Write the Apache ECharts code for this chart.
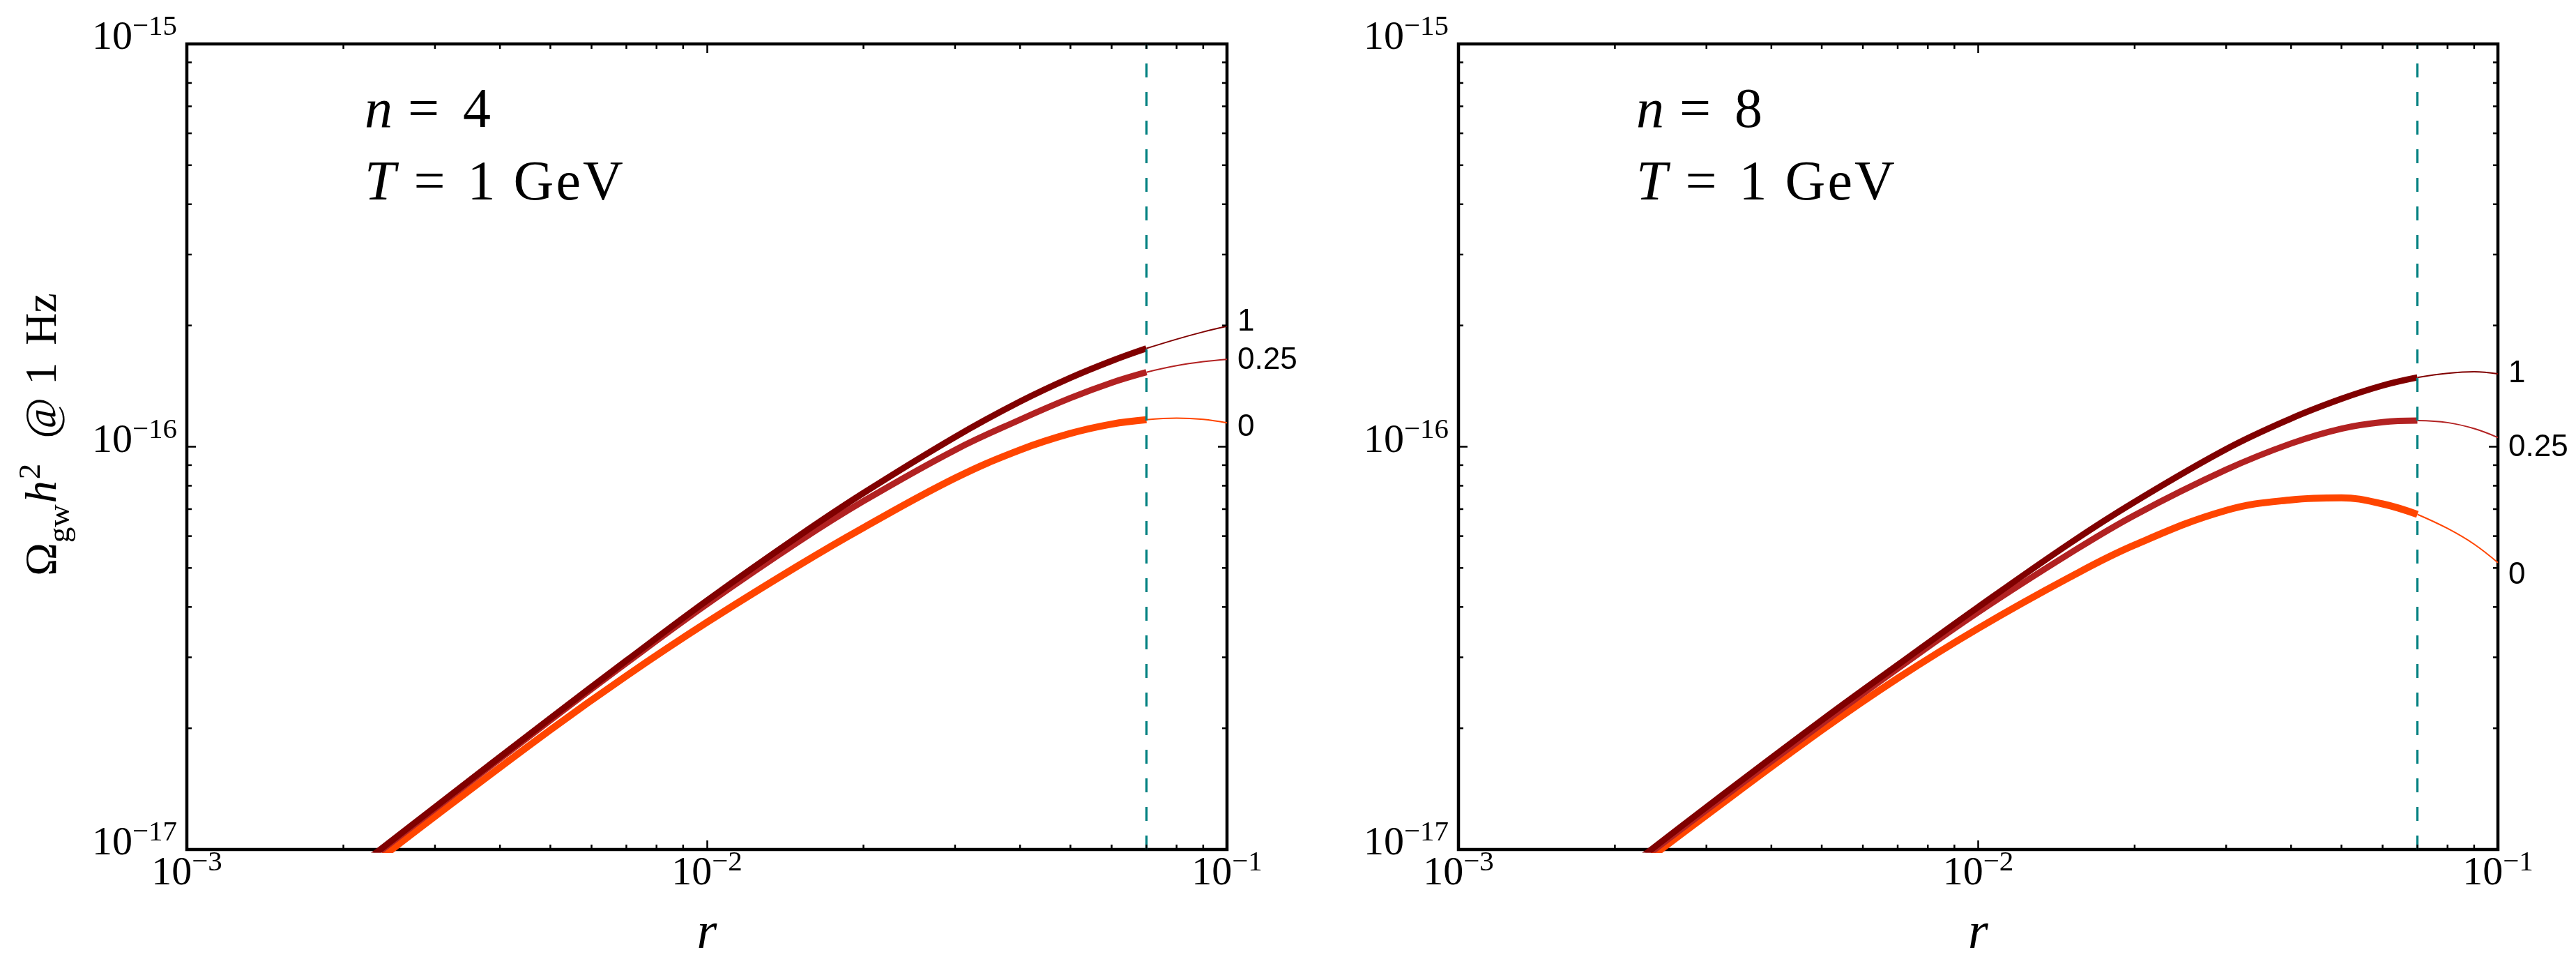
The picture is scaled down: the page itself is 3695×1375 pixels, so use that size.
<!DOCTYPE html>
<html>
<head>
<meta charset="utf-8">
<script src="https://cdn.jsdelivr.net/npm/echarts@6/dist/echarts.min.js"></script>
<style>
html,body{margin:0;padding:0;background:#ffffff;}
#chart{width:3695px;height:1375px;}
</style>
</head>
<body>
<div id="chart"></div>
<script>
// ---------------- data ----------------
const rValues = [0.002, 0.003, 0.005, 0.007, 0.01, 0.015, 0.02, 0.03, 0.04, 0.05, 0.06, 0.07, 0.08, 0.09, 0.1];

// n = 4 panel, Omega_gw h^2 @ 1 Hz
const omegaN4_a1   = [8.49e-18, 1.274e-17, 2.118e-17, 2.944e-17, 4.150e-17, 5.998e-17, 7.674e-17, 1.057e-16, 1.294e-16, 1.483e-16, 1.633e-16, 1.754e-16, 1.849e-16, 1.928e-16, 1.991e-16];
const omegaN4_a025 = [8.414e-18, 1.262e-17, 2.094e-17, 2.904e-17, 4.064e-17, 5.808e-17, 7.328e-17, 9.817e-17, 1.167e-16, 1.321e-16, 1.442e-16, 1.531e-16, 1.589e-16, 1.626e-16, 1.648e-16];
const omegaN4_a0   = [8.072e-18, 1.208e-17, 1.982e-17, 2.698e-17, 3.664e-17, 5.070e-17, 6.295e-17, 8.356e-17, 9.817e-17, 1.079e-16, 1.138e-16, 1.167e-16, 1.178e-16, 1.1695e-16, 1.146e-16];

// n = 8 panel
const omegaN8_a1   = [8.511e-18, 1.274e-17, 2.094e-17, 2.871e-17, 3.999e-17, 5.754e-17, 7.295e-17, 9.863e-17, 1.175e-16, 1.315e-16, 1.419e-16, 1.486e-16, 1.521e-16, 1.535e-16, 1.517e-16];
const omegaN8_a025 = [8.395e-18, 1.253e-17, 2.051e-17, 2.812e-17, 3.882e-17, 5.433e-17, 6.761e-17, 8.770e-17, 1.0186e-16, 1.109e-16, 1.151e-16, 1.161e-16, 1.148e-16, 1.109e-16, 1.054e-16];
const omegaN8_a0   = [8.185e-18, 1.216e-17, 1.977e-17, 2.661e-17, 3.540e-17, 4.742e-17, 5.702e-17, 6.950e-17, 7.379e-17, 7.465e-17, 7.211e-17, 6.792e-17, 6.266e-17, 5.728e-17, 5.152e-17];

const curveLabels = ['0', '0.25', '1'];
const panelN = ['4', '8'];
const panelT = ['1', 'GeV'];
const rCut = 0.07;

const xMin = 0.001, xMax = 0.1;
const yMin = 1e-17, yMax = 1e-15;
const xMinorTicks = [0.002, 0.003, 0.004, 0.005, 0.006, 0.007, 0.008, 0.009, 0.02, 0.03, 0.04, 0.05, 0.06, 0.07, 0.08, 0.09];
const yMinorTicks = [2e-17, 3e-17, 4e-17, 5e-17, 6e-17, 7e-17, 8e-17, 9e-17, 2e-16, 3e-16, 4e-16, 5e-16, 6e-16, 7e-16, 8e-16, 9e-16];

const panelCurves = [
  [omegaN4_a0, omegaN4_a025, omegaN4_a1],
  [omegaN8_a0, omegaN8_a025, omegaN8_a1]
];

// ---------------- styles / layout ----------------
const SERIF = 'Liberation Serif';
const SANS = 'Liberation Sans';
const curveColors = ['#FF4500', '#B22222', '#800000'];
const thickWidths = [10, 9, 9];
const thinWidth = 2;
const grids = [
  {left: 268, top: 63, width: 1492, height: 1155},
  {left: 2092, top: 63, width: 1491, height: 1155}
];
const endLabelOffsets = [
  [[0, 7], [0, 2], [0, -6]],
  [[0, 18], [0, 15], [0, 0]]
];
const MAJOR = 13, MINOR = 7, TICKW = 2.5;

function expOf(v) { return Math.round(Math.log(v) / Math.LN10); }
function tickFormatter(v) {
  const e = expOf(v);
  return '{b|10}{s|' + (e < 0 ? '\u2212' + (-e) : e) + '}';
}
const tickRich = {
  b: {fontFamily: SERIF, fontSize: 58, lineHeight: 58, color: '#000', verticalAlign: 'bottom'},
  s: {fontFamily: SERIF, fontSize: 41, lineHeight: 41, color: '#000', verticalAlign: 'bottom', padding: [0, 0, 24, 0]}
};

const xAxes = [], yAxes = [], series = [];

grids.forEach((g, gi) => {
  ['bottom', 'top'].forEach((pos, k) => {
    xAxes.push({
      type: 'log', logBase: 10, gridIndex: gi, position: pos, min: xMin, max: xMax,
      axisLine: {show: false},
      axisTick: {show: true, inside: true, length: MAJOR, lineStyle: {color: '#000', width: TICKW}},
      splitLine: {show: false}, minorTick: {show: false},
      axisLabel: k === 0 ? {
        show: true, formatter: tickFormatter, rich: tickRich, margin: 6,
        showMinLabel: true, showMaxLabel: true
      } : {show: false}
    });
  });
  ['left', 'right'].forEach((pos, k) => {
    yAxes.push({
      type: 'log', logBase: 10, gridIndex: gi, position: pos, min: yMin, max: yMax,
      axisLine: {show: false},
      axisTick: {show: true, inside: true, length: MAJOR, lineStyle: {color: '#000', width: TICKW}},
      splitLine: {show: false}, minorTick: {show: false},
      axisLabel: k === 0 ? {
        show: true, formatter: tickFormatter, rich: tickRich, margin: 14,
        verticalAlign: 'middle', padding: [0, 0, 16, 0],
        showMinLabel: true, showMaxLabel: true
      } : {show: false}
    });
  });

  const xi = gi * 2, yi = gi * 2;

  panelCurves[gi].forEach((vals, ci) => {
    const pts = rValues.map((r, i) => [r, vals[i]]);
    const thick = pts.filter(p => p[0] <= rCut + 1e-12);
    const thin = pts.filter(p => p[0] >= rCut - 1e-12);
    series.push({
      type: 'line', xAxisIndex: xi, yAxisIndex: yi, data: thick,
      symbol: 'none', smooth: 0.4, silent: true, z: 3 + ci,
      lineStyle: {color: curveColors[ci], width: thickWidths[ci], cap: 'butt'}
    });
    const thinSeries = {
      type: 'line', xAxisIndex: xi, yAxisIndex: yi, data: thin,
      symbol: 'none', smooth: 0.4, silent: true, z: 3 + ci,
      lineStyle: {color: curveColors[ci], width: thinWidth},
      endLabel: {
        show: true, formatter: curveLabels[ci], fontFamily: SANS, fontSize: 44,
        color: '#000', distance: 15, offset: endLabelOffsets[gi][ci]
      }
    };
    if (ci === 2) {
      thinSeries.markLine = {
        silent: true, symbol: ['none', 'none'], label: {show: false}, z: 10,
        lineStyle: {color: '#008080', width: 3.2, type: [20, 21]},
        data: [{xAxis: rCut}]
      };
    }
    series.push(thinSeries);
  });

  // minor ticks (log pattern) placed through the axes' own scales
  const tickData = xMinorTicks.map(v => [v, 1e-16, 0]).concat(yMinorTicks.map(v => [0.01, v, 1]));
  series.push({
    type: 'custom', xAxisIndex: xi, yAxisIndex: yi, data: tickData, silent: true, clip: false, z: 20,
    encode: {x: 0, y: 1},
    renderItem: function (params, api) {
      const cs = params.coordSys;
      const kind = api.value(2);
      const p = api.coord([api.value(0), api.value(1)]);
      const st = {stroke: '#000', lineWidth: TICKW};
      if (kind === 0) {
        return {type: 'group', children: [
          {type: 'line', shape: {x1: p[0], y1: cs.y + cs.height, x2: p[0], y2: cs.y + cs.height - MINOR}, style: st},
          {type: 'line', shape: {x1: p[0], y1: cs.y, x2: p[0], y2: cs.y + MINOR}, style: st}
        ]};
      }
      return {type: 'group', children: [
        {type: 'line', shape: {x1: cs.x, y1: p[1], x2: cs.x + MINOR, y2: p[1]}, style: st},
        {type: 'line', shape: {x1: cs.x + cs.width, y1: p[1], x2: cs.x + cs.width - MINOR, y2: p[1]}, style: st}
      ]};
    }
  });
});

// ---------------- texts ----------------
const ANN = 80;
const annRich = {
  i: {fontFamily: SERIF, fontStyle: 'italic', fontSize: ANN, lineHeight: ANN, fill: '#000'},
  eqn: {fontFamily: SERIF, fontSize: ANN, lineHeight: ANN, fill: '#000', padding: [0, 34, 0, 22]},
  eqt: {fontFamily: SERIF, fontSize: ANN, lineHeight: ANN, fill: '#000', padding: [0, 32, 0, 26]},
  t: {fontFamily: SERIF, fontSize: ANN, lineHeight: ANN, fill: '#000'},
  g: {fontFamily: SERIF, fontSize: ANN, lineHeight: ANN, fill: '#000', padding: [0, 0, 0, 26]},
  gl: {fontFamily: SERIF, fontSize: ANN, lineHeight: ANN, fill: '#000', padding: [0, 0, 0, 3]}
};
const graphics = [];
grids.forEach((g, gi) => {
  const x0 = g.left + 255;
  graphics.push({
    type: 'text', x: x0, y: 201, silent: true,
    style: {text: '{i|n}{eqn|=}{t|' + panelN[gi] + '}', rich: annRich, align: 'left', verticalAlign: 'bottom'}
  });
  const unit = panelT[1].split('');
  graphics.push({
    type: 'text', x: x0, y: 305, silent: true,
    style: {
      text: '{i|T}{eqt|=}{t|' + panelT[0] + '}{g|' + unit[0] + '}' + unit.slice(1).map(c => '{gl|' + c + '}').join(''),
      rich: annRich, align: 'left', verticalAlign: 'bottom'
    }
  });
  graphics.push({
    type: 'text', x: g.left + g.width / 2, y: 1340, silent: true,
    style: {text: 'r', fontFamily: SERIF, fontStyle: 'italic', fontSize: 74, fill: '#000', align: 'center', verticalAlign: 'middle'}
  });
});
const YL = 64;
graphics.push({
  type: 'text', x: 66, y: 623, rotation: Math.PI / 2, silent: true,
  style: {
    text: '{o|\u03A9}{sub|gw}{h|h}{sup|2}{at|@}{n|1}{hz|Hz}',
    align: 'center', verticalAlign: 'middle',
    rich: {
      o: {fontFamily: SERIF, fontSize: YL, fill: '#000', verticalAlign: 'bottom', padding: [0, 0, 14, 0]},
      sub: {fontFamily: SERIF, fontSize: 45, fill: '#000', verticalAlign: 'bottom', padding: [0, 2, 0, 0]},
      h: {fontFamily: SERIF, fontStyle: 'italic', fontSize: YL, fill: '#000', verticalAlign: 'bottom', padding: [0, 0, 14, 0]},
      sup: {fontFamily: SERIF, fontSize: 45, fill: '#000', verticalAlign: 'bottom', padding: [0, 0, 42, 2]},
      at: {fontFamily: SERIF, fontSize: YL, fill: '#000', verticalAlign: 'bottom', padding: [0, 18, 14, 36]},
      n: {fontFamily: SERIF, fontSize: YL, fill: '#000', verticalAlign: 'bottom', padding: [0, 25, 14, 0]},
      hz: {fontFamily: SERIF, fontSize: YL, fill: '#000', verticalAlign: 'bottom', padding: [0, 0, 14, 0]}
    }
  }
});

const chart = echarts.init(document.getElementById('chart'), null, {renderer: 'canvas'});
chart.setOption({
  backgroundColor: '#ffffff',
  animation: false,
  grid: grids.map(g => Object.assign({show: true, borderColor: '#000', borderWidth: 4.5, backgroundColor: 'transparent', containLabel: false}, g)),
  xAxis: xAxes,
  yAxis: yAxes,
  series: series,
  graphic: graphics
});
</script>
</body>
</html>
